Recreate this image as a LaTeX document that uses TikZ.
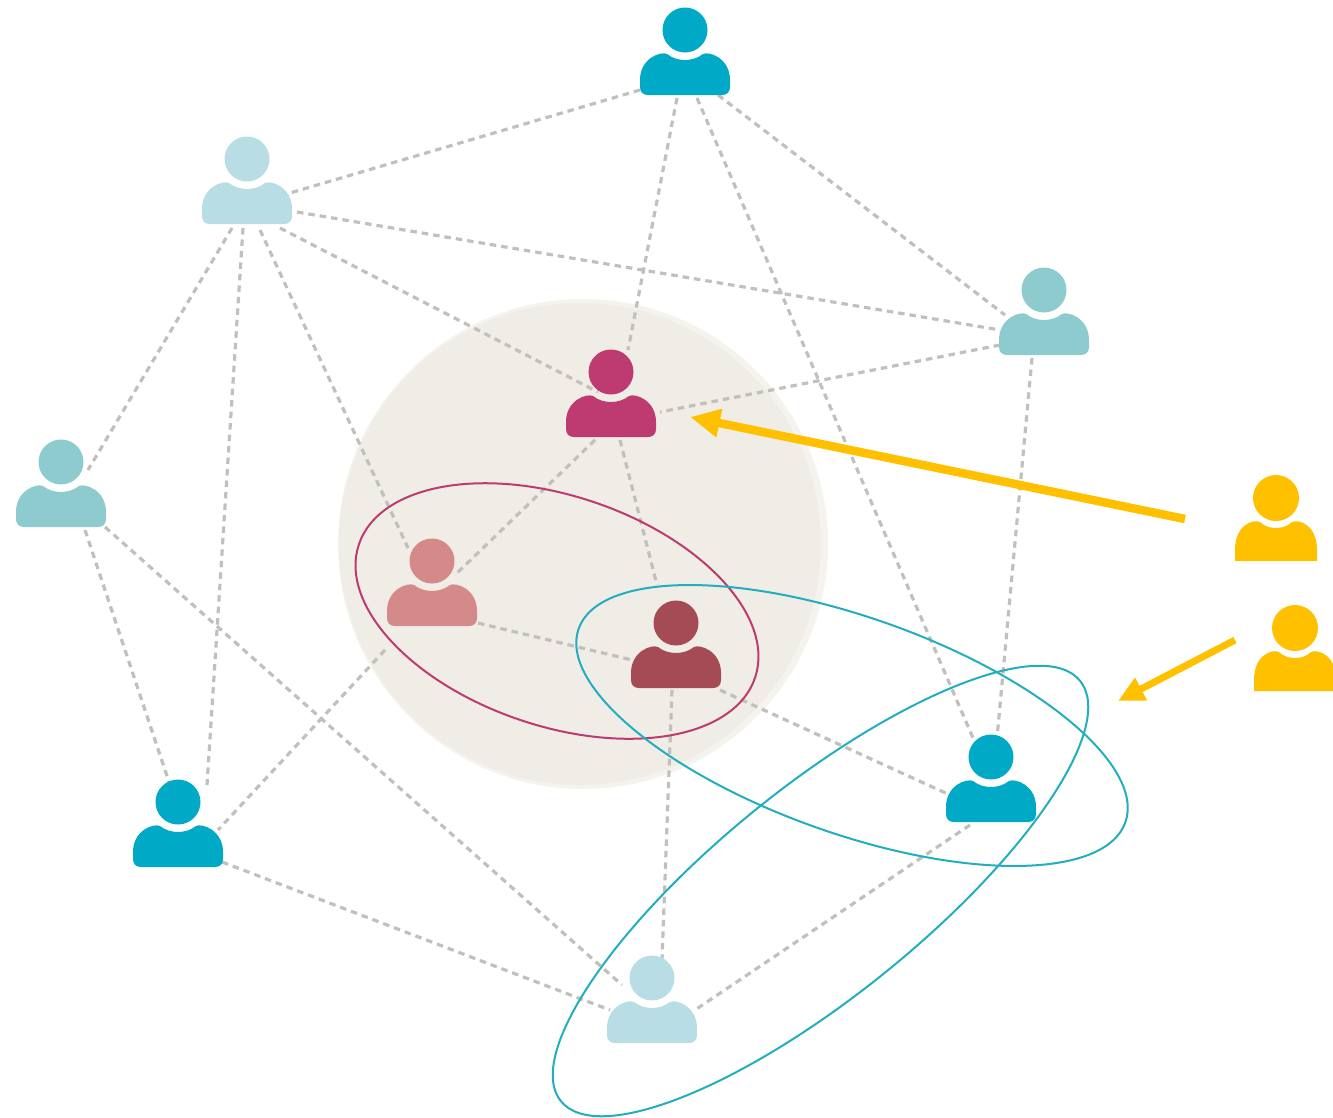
\documentclass[tikz,border=0pt]{standalone}
\usetikzlibrary{arrows.meta}
\definecolor{cblue}{HTML}{00A9C6}
\definecolor{clight}{HTML}{B8DDE5}
\definecolor{cteal}{HTML}{8ECBCE}
\definecolor{cmag}{HTML}{BE3B72}
\definecolor{csal}{HTML}{D58A8A}
\definecolor{cdark}{HTML}{A44B55}
\definecolor{cyel}{HTML}{FFC000}
\definecolor{cedge}{HTML}{C2C0BC}
\definecolor{cdisc}{HTML}{F0EDE6}
\definecolor{cdiscrim}{HTML}{F5F3EE}
\definecolor{cring}{HTML}{22AEBE}
\tikzset{
  personbox/.style={rectangle,inner sep=0pt,outer sep=0pt,minimum width=92pt,minimum height=88pt},
  yellowbox/.style={rectangle,inner sep=0pt,outer sep=0pt,minimum width=82pt,minimum height=86pt},
  link/.style={draw=cedge,line width=3.2pt,dash pattern=on 6.5pt off 5pt},
  ringline/.style={draw=#1,line width=2pt},
  yarrow/.style={draw=cyel,-{Triangle[length=#1]}},
  pics/roundperson/.style={code={
    \fill[#1] (0,-22) circle [radius=22.5];
    \fill[#1] (-18,2) .. controls (-24,-1) and (-45,6) .. (-45,28)
      -- (-45,35) .. controls (-45,40) and (-42,43) .. (-37,43)
      -- (37,43) .. controls (42,43) and (45,40) .. (45,35)
      -- (45,28) .. controls (45,6) and (24,-1) .. (18,2)
      .. controls (8,10) and (-8,10) .. (-18,2) -- cycle;
  }},
  pics/squareperson/.style={code={
    \fill[#1] (0,-20) circle [radius=23];
    \fill[#1] (-16,4) .. controls (-22,1) and (-41,6) .. (-41,32)
      -- (-41,43) -- (41,43) -- (41,32)
      .. controls (41,6) and (22,1) .. (16,4)
      .. controls (8,12) and (-8,12) .. (-16,4) -- cycle;
  }}
}
\begin{document}
\begin{tikzpicture}[x=1pt,y=-1pt]
\useasboundingbox (0,0) rectangle (1333,1117);
% disc
\fill[cdiscrim] (583,544) circle [radius=245];
\fill[cdisc] (580,544) circle [radius=241];
% anchors for persons
\node[personbox] (top) at (685,52) {};
\node[personbox] (lb) at (247,181) {};
\node[personbox] (rt) at (1044,312) {};
\node[personbox] (mag) at (611,394) {};
\node[personbox] (lt) at (61,484) {};
\node[personbox] (sal) at (432,583) {};
\node[personbox] (dark) at (676,645) {};
\node[personbox] (br) at (991,779) {};
\node[personbox] (bl) at (178,824) {};
\node[personbox] (bot) at (652,1000) {};
\node[yellowbox] (y1) at (1276,518) {};
\node[yellowbox] (y2) at (1295,648) {};
% connectors
\foreach \a/\ax/\ay/\b/\bx/\by in {
  top/-45/38/lb/43/12,
  top/-8/46/mag/17/-44,
  top/12/46/br/-18/-41,
  top/33/43/rt/-39/3,
  lb/50/31/rt/-44/18,
  lb/33/47/mag/-13/-2,
  lb/13/49/sal/-24/-35,
  lb/-15/47/lt/27/-14,
  lb/-4/47/bl/29/-39,
  rt/-44/33/mag/49/18,
  rt/-12/46/br/6/-41,
  mag/9/46/dark/-19/-60,
  sal/46/40/dark/-44/15,
  dark/44/45/br/-41/16,
  dark/-4/45/bot/10/-40,
  br/-21/46/bot/43/10,
  lt/24/46/bl/-8/-39,
  lt/44/43/bot/-30/-15,
  bl/44/38/bot/-42/10,
  mag/-16/46/sal/23/-8,
  sal/-47/67/bl/40/6}
  \draw[link] ([shift={(\ax,\ay)}]\a.center) -- ([shift={(\bx,\by)}]\b.center);
% persons
\pic at (685,52) {roundperson=cblue};
\pic at (247,181) {roundperson=clight};
\pic at (1044,312) {roundperson=cteal};
\pic at (61,484) {roundperson=cteal};
\pic at (611,394) {roundperson=cmag};
\pic at (432,583) {roundperson=csal};
\pic at (676,645) {roundperson=cdark};
\pic at (991,779) {roundperson=cblue};
\pic at (178,824) {roundperson=cblue};
\pic at (652,1000) {roundperson=clight};
\pic at (1276,518) {squareperson=cyel};
\pic at (1295,648) {squareperson=cyel};
% ellipses
\draw[ringline=cmag,rotate around={-18.6:(557,611)}] (557,611) ellipse [x radius=209,y radius=115];
\draw[ringline=cring,rotate around={-19.5:(852,725.5)}] (852,725.5) ellipse [x radius=290,y radius=108];
\draw[ringline=cring,rotate around={39:(820.5,891)}] (820.5,891) ellipse [x radius=334,y radius=104];
% arrows
\coordinate (a1s) at (1185,519);
\coordinate (a1e) at (690,417);
\coordinate (a2s) at (1235,640);
\coordinate (a2e) at (1118,701);
\draw[-{Triangle[length=30pt,width=27pt]},draw=cyel,line width=8.5pt] (a1s) -- (a1e);
\draw[-{Triangle[length=26pt,width=24pt]},draw=cyel,line width=7pt] (a2s) -- (a2e);
\end{tikzpicture}
\end{document}
